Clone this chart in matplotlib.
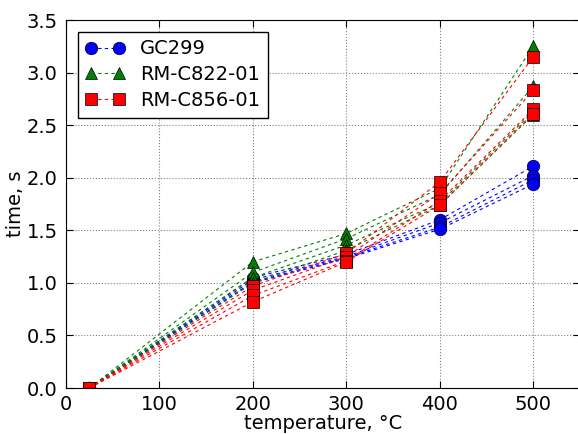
import matplotlib

matplotlib.use("Agg")
import matplotlib.pyplot as plt

# 측정 온도 (°C)
temperature = [25, 200, 300, 400, 500]

# 재료별 반복 측정 시간 (s)
gc299 = [
    [0.0, 1.05, 1.27, 1.60, 2.11],
    [0.0, 1.03, 1.25, 1.57, 2.02],
    [0.0, 1.01, 1.24, 1.53, 1.98],
    [0.0, 1.00, 1.23, 1.51, 1.94],
]
rm_c822 = [
    [0.0, 1.20, 1.47, 1.90, 3.25],
    [0.0, 1.10, 1.42, 1.84, 2.87],
    [0.0, 1.05, 1.36, 1.76, 2.63],
    [0.0, 1.00, 1.31, 1.74, 2.60],
]
rm_c856 = [
    [0.0, 0.97, 1.28, 1.96, 3.15],
    [0.0, 0.93, 1.25, 1.85, 2.83],
    [0.0, 0.88, 1.21, 1.78, 2.65],
    [0.0, 0.82, 1.20, 1.74, 2.61],
]

series = [
    ("GC299", gc299, "b", "o"),
    ("RM-C822-01", rm_c822, "g", "^"),
    ("RM-C856-01", rm_c856, "r", "s"),
]

plt.rcParams["font.family"] = "DejaVu Sans"
plt.rcParams["font.size"] = 14

fig = plt.figure(figsize=(5.78, 4.34), dpi=100)
ax = fig.add_axes([66 / 578, 46 / 434, 514 / 578, 368 / 434])

for label, runs, color, marker in series:
    for i, ys in enumerate(runs):
        ax.plot(temperature, ys, ls=(0, (3, 3)), color=color, marker=marker,
                markersize=9, markeredgecolor="black", markeredgewidth=0.5,
                lw=0.8, label=label if i == 0 else None)

ax.set_xlim(0, 550)
ax.set_ylim(0, 3.5)
ax.set_xticks([0, 100, 200, 300, 400, 500])
ax.set_yticks([0.0, 0.5, 1.0, 1.5, 2.0, 2.5, 3.0, 3.5])
ax.set_yticklabels([f"{v:.1f}" for v in ax.get_yticks()])
ax.grid(True, ls=":", color="gray", lw=0.8)
ax.tick_params(direction="in", top=True, right=True, length=5, pad=5)
ax.tick_params(axis="y", pad=6)
ax.set_xlabel("temperature, °C", labelpad=0)
ax.set_ylabel("time, s", labelpad=1)

leg = ax.legend(loc="upper left", numpoints=2, fancybox=False,
                borderaxespad=0.6, handlelength=2.0, labelspacing=0.35,
                handletextpad=0.8)
leg.get_frame().set_edgecolor("black")
leg.get_frame().set_alpha(1.0)

fig.savefig("out.png", dpi=100)
